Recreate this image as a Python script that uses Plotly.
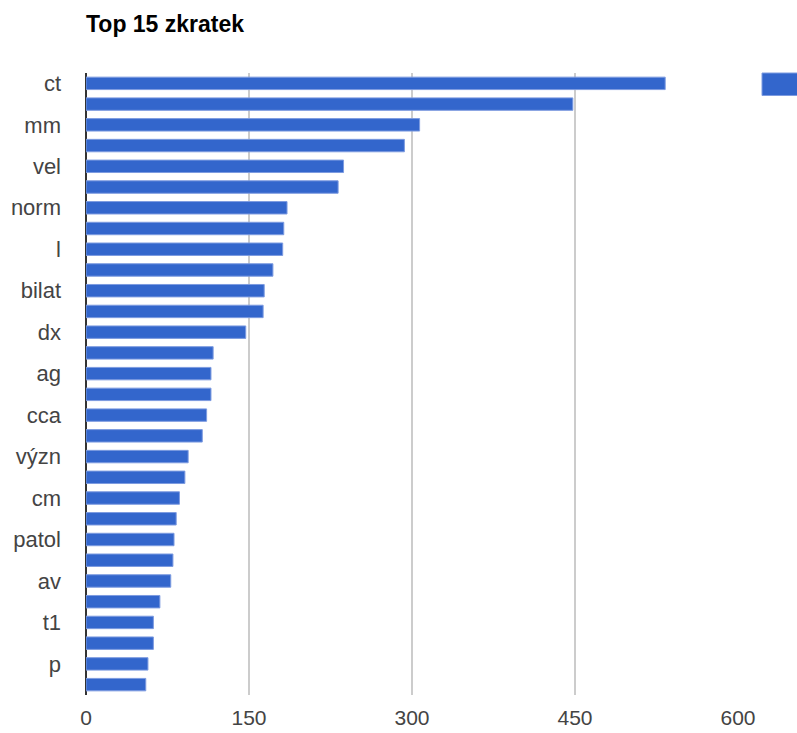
import plotly.graph_objects as go

title_text = "Top 15 zkratek"
# visible category labels (every other bar is labelled in the reference)
labels = ["ct", "mm", "vel", "norm", "l", "bilat", "dx", "ag", "cca",
          "význ", "cm", "patol", "av", "t1", "p"]
# bar values, top to bottom
values = [533, 448, 307, 293, 237, 232, 185, 182, 181, 172,
          164, 163, 147, 117, 115, 115, 111, 107, 94, 91,
          86, 83, 81, 80, 78, 68, 62, 62, 57, 55]
positions = list(range(len(values)))
x_ticks = [0, 150, 300, 450, 600]

BLUE = "#3366cc"

fig = go.Figure(go.Bar(
    x=values, y=positions, orientation="h",
    marker=dict(color=BLUE, line=dict(color="#7d9be0", width=1)),
    showlegend=False,
))

W, H = 797, 733
ml, mr, mt, mb = 86, 59, 73, 38

fig.update_layout(
    width=W, height=H,
    margin=dict(l=ml, r=mr, t=mt, b=mb, pad=0, autoexpand=False),
    paper_bgcolor="white", plot_bgcolor="white",
    bargap=0.4,
    font=dict(family="Liberation Sans, Arial, sans-serif", color="#444444", size=22),
    title=dict(text="<b>" + title_text + "</b>", x=ml / W, xanchor="left",
               xref="container", y=1 - 24 / H, yanchor="middle", yref="container",
               font=dict(family="Liberation Sans, Arial, sans-serif", size=23, color="#000000")),
    xaxis=dict(range=[0, 600], tickvals=x_ticks, showgrid=True, gridcolor="#cccccc",
               gridwidth=2, zeroline=True, zerolinecolor="#333333", zerolinewidth=2,
               showline=False, ticks="", ticklabelstandoff=8, fixedrange=True,
               automargin=False, tickfont=dict(size=21)),
    yaxis=dict(range=[len(values) - 0.5, -0.5], tickvals=positions[::2], ticktext=labels,
               showgrid=False, zeroline=False, showline=False, ticks="",
               ticklabelstandoff=24, fixedrange=True, automargin=False),
    shapes=[dict(type="rect", xref="paper", yref="paper",
                 x0=(762 - ml) / (W - ml - mr), x1=(810 - ml) / (W - ml - mr),
                 y0=1 - 22.5 / (H - mt - mb), y1=1.0,
                 fillcolor=BLUE, line=dict(color="#7d9be0", width=1))],
)

fig.write_html("out.html")
